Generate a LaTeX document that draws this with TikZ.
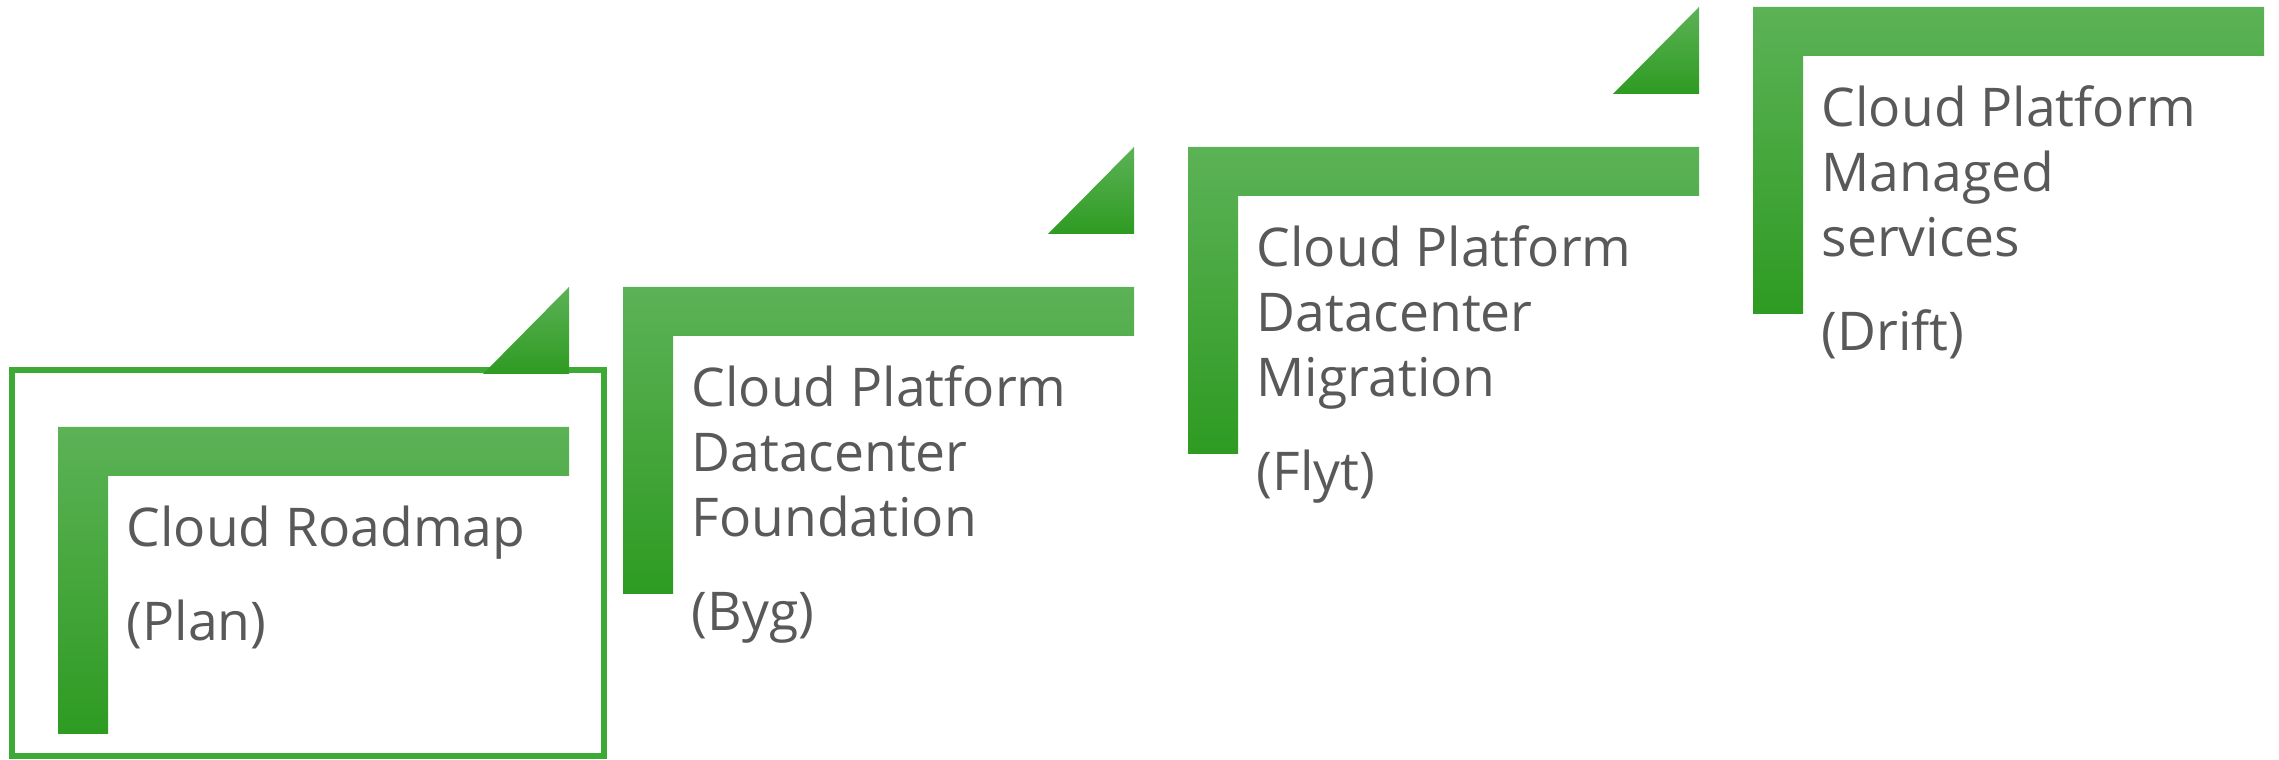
\documentclass[tikz,border=0pt]{standalone}
\usepackage{fontspec}
\setmainfont{Open Sans}
\usepackage{xcolor}

\definecolor{lightgreen}{RGB}{92,178,86}
\definecolor{darkgreen}{RGB}{46,155,34}
\definecolor{framegreen}{RGB}{61,170,53}
\definecolor{textgray}{RGB}{89,89,89}

\begin{document}
\begin{tikzpicture}[
        greenfill/.style={top color=lightgreen, bottom color=darkgreen, draw=none},
        steptext/.style={anchor=north west, inner sep=0pt, align=left, text=textgray,
                         font=\fontsize{15.2pt}{18.5pt}\selectfont}
    ]
        \useasboundingbox (0,0) rectangle (22.79,7.60);

        %Frame round the first step
        \draw [framegreen, line width=1.7pt] (0.12,0.04) rectangle (6.04,3.90);

        %Step 1 - Plan
        \shade [greenfill] (0.58,3.33) -- (5.69,3.33) -- (5.69,2.84) -- (1.08,2.84) -- (1.08,0.26) -- (0.58,0.26) -- cycle; %L
        \shade [greenfill] (4.83,3.86) -- (5.69,4.73) -- (5.69,3.86) -- cycle; %corner
        \node [steptext] (plan) at (1.26,2.55) {Cloud Roadmap\\[0.29cm](Plan)};

        %Step 2 - Byg
        \shade [greenfill] (6.23,4.73) -- (11.34,4.73) -- (11.34,4.24) -- (6.73,4.24) -- (6.73,1.66) -- (6.23,1.66) -- cycle; %L
        \shade [greenfill] (10.48,5.26) -- (11.34,6.13) -- (11.34,5.26) -- cycle; %corner
        \node [steptext] (byg) at (6.91,3.95) {Cloud Platform\\Datacenter\\Foundation\\[0.29cm](Byg)};

        %Step 3 - Flyt
        \shade [greenfill] (11.88,6.13) -- (16.99,6.13) -- (16.99,5.64) -- (12.38,5.64) -- (12.38,3.06) -- (11.88,3.06) -- cycle; %L
        \shade [greenfill] (16.13,6.66) -- (16.99,7.53) -- (16.99,6.66) -- cycle; %corner
        \node [steptext] (flyt) at (12.56,5.35) {Cloud Platform\\Datacenter\\Migration\\[0.29cm](Flyt)};

        %Step 4 - Drift
        \shade [greenfill] (17.53,7.53) -- (22.64,7.53) -- (22.64,7.04) -- (18.03,7.04) -- (18.03,4.46) -- (17.53,4.46) -- cycle; %L
        \node [steptext] (drift) at (18.21,6.75) {Cloud Platform\\Managed\\services\\[0.29cm](Drift)};

\end{tikzpicture}
\end{document}
